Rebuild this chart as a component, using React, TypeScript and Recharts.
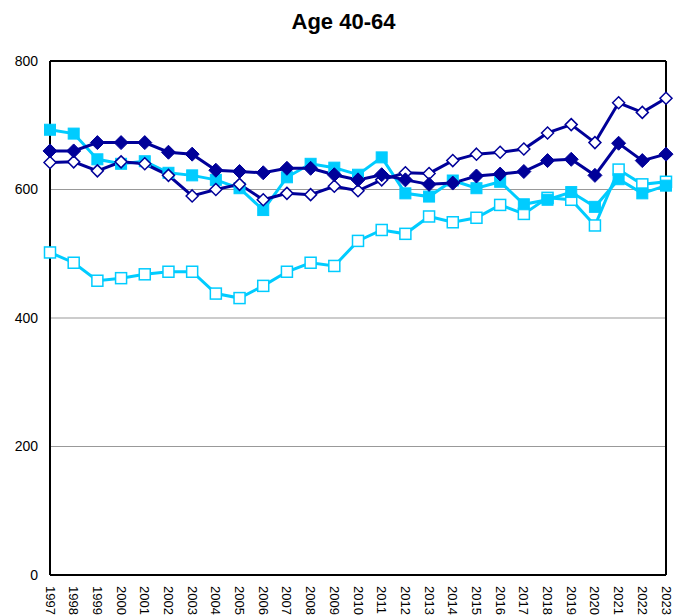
import React from 'react';
import { LineChart, Line, XAxis, YAxis, CartesianGrid, ReferenceLine } from 'recharts';

const years = [
  '1997', '1998', '1999', '2000', '2001', '2002', '2003', '2004', '2005', '2006',
  '2007', '2008', '2009', '2010', '2011', '2012', '2013', '2014', '2015', '2016',
  '2017', '2018', '2019', '2020', '2021', '2022', '2023',
];

const navyFilled = [
  660, 660, 673, 673, 673, 658, 655, 630, 628, 626,
  633, 633, 623, 615, 623, 615, 608, 610, 621, 624,
  628, 645, 647, 622, 672, 645, 655,
];
const navyHollow = [
  642, 643, 629, 643, 640, 622, 590, 600, 608, 584,
  594, 592, 605, 598, 615, 626, 625, 645, 655, 658,
  663, 688, 701, 673, 735, 720, 742,
];
const cyanFilled = [
  693, 687, 647, 640, 644, 626, 622, 615, 602, 568,
  619, 640, 634, 623, 650, 594, 589, 614, 602, 612,
  577, 584, 596, 573, 616, 594, 606,
];
const cyanHollow = [
  502, 486, 458, 462, 468, 472, 472, 438, 431, 450,
  472, 486, 481, 520, 537, 531, 558, 549, 556, 576,
  562, 587, 584, 544, 631, 608, 612,
];

const yTicks = [0, 200, 400, 600, 800];

const NAVY = '#000099';
const CYAN = '#00CCFF';
const FONT = '"Liberation Sans", Arial, sans-serif';

const data = years.map((year, i) => ({
  year,
  navyFilled: navyFilled[i],
  navyHollow: navyHollow[i],
  cyanFilled: cyanFilled[i],
  cyanHollow: cyanHollow[i],
}));

const diamond = (color: string, filled: boolean, r: number) => (props: any) => {
  const { cx, cy, index } = props;
  if (cx == null || cy == null) return <g key={index} />;
  const pts = `${cx},${cy - r} ${cx + r},${cy} ${cx},${cy + r} ${cx - r},${cy}`;
  return (
    <polygon
      key={index}
      points={pts}
      fill={filled ? color : '#fff'}
      stroke={color}
      strokeWidth={filled ? 1 : 1.5}
    />
  );
};

const square = (color: string, filled: boolean, r: number) => (props: any) => {
  const { cx, cy, index } = props;
  if (cx == null || cy == null) return <g key={index} />;
  return (
    <rect
      key={index}
      x={cx - r}
      y={cy - r}
      width={r * 2}
      height={r * 2}
      fill={filled ? color : '#fff'}
      stroke={color}
      strokeWidth={filled ? 1 : 1.5}
    />
  );
};

const XTick = (props: any) => {
  const { x, y, payload } = props;
  return (
    <text
      x={0}
      y={0}
      transform={`translate(${x},${y + 3}) rotate(90)`}
      textAnchor="start"
      dominantBaseline="central"
      fontSize={13}
      fontFamily={FONT}
      fill="#000"
    >
      {payload.value}
    </text>
  );
};

const App: React.FC = () => {
  return (
    <div style={{ position: 'absolute', left: 0, top: 0, width: 679, height: 616, background: '#fff' }}>
      <div
        style={{
          height: 40,
          lineHeight: '44px',
          textAlign: 'center',
          fontFamily: FONT,
          fontWeight: 'bold',
          fontSize: 22,
          paddingLeft: 8,
        }}
      >
        Age 40-64
      </div>
      <LineChart
        width={679}
        height={576}
        data={data}
        margin={{ top: 21, right: 13, left: 0, bottom: 0 }}
      >
        <CartesianGrid horizontal vertical={false} stroke="#999" strokeWidth={1} />
        <XAxis
          dataKey="year"
          interval={0}
          tickLine={false}
          axisLine={{ stroke: '#000', strokeWidth: 2 }}
          height={41}
          tick={<XTick />}
        />
        <YAxis
          domain={[0, 800]}
          ticks={yTicks}
          interval={0}
          width={50}
          tickLine={false}
          tickSize={6}
          tickMargin={6}
          axisLine={{ stroke: '#000', strokeWidth: 2 }}
          tick={{ fill: '#000', fontSize: 14, fontFamily: FONT }}
        />
        <ReferenceLine y={800} stroke="#000" strokeWidth={2} />
        <ReferenceLine x="2023" stroke="#000" strokeWidth={2} />
        <Line
          dataKey="cyanHollow"
          stroke={CYAN}
          strokeWidth={3}
          dot={square(CYAN, false, 5.5)}
          isAnimationActive={false}
        />
        <Line
          dataKey="cyanFilled"
          stroke={CYAN}
          strokeWidth={3}
          dot={square(CYAN, true, 5.5)}
          isAnimationActive={false}
        />
        <Line
          dataKey="navyHollow"
          stroke={NAVY}
          strokeWidth={3}
          dot={diamond(NAVY, false, 6)}
          isAnimationActive={false}
        />
        <Line
          dataKey="navyFilled"
          stroke={NAVY}
          strokeWidth={3}
          dot={diamond(NAVY, true, 7)}
          isAnimationActive={false}
        />
      </LineChart>
    </div>
  );
};

export default App;
